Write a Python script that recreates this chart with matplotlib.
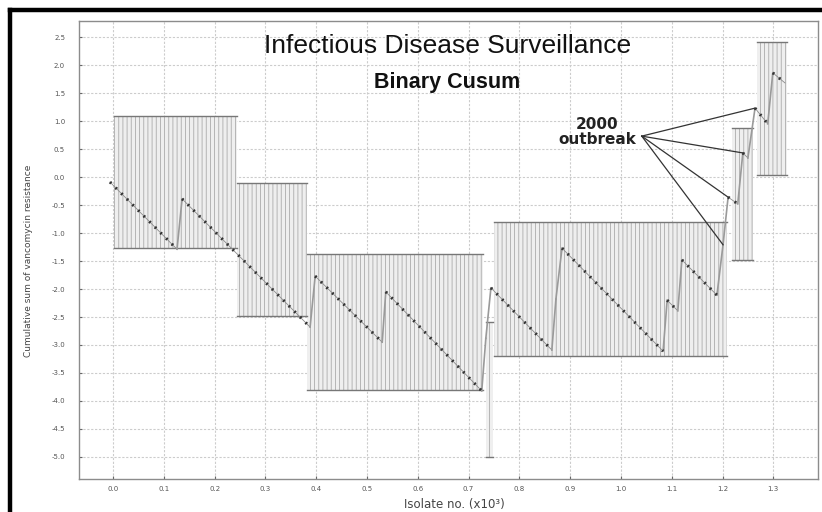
import matplotlib
matplotlib.use('Agg')
import matplotlib.pyplot as plt
from matplotlib.patches import Rectangle
from matplotlib.lines import Line2D

# cusum path (isolate no. x10^3, cumulative sum)
cusum_x = [-0.006, 0.126, 0.136, 0.388, 0.398, 0.530, 0.537, 0.726, 0.734, 0.744,
           0.864, 0.872, 0.884, 1.083, 1.091, 1.112, 1.120, 1.189, 1.201, 1.211,
           1.230, 1.240, 1.250, 1.264, 1.289, 1.299, 1.323]
cusum_y = [-0.09, -1.29, -0.39, -2.68, -1.77, -2.95, -2.05, -3.82, -2.88, -1.98,
           -3.09, -2.18, -1.27, -3.11, -2.20, -2.39, -1.48, -2.11, -1.21, -0.36,
           -0.48, 0.43, 0.34, 1.23, 0.95, 1.86, 1.68]

# decision interval bands
band_start = [0.002, 0.244, 0.382, 0.734, 0.750, 1.219, 1.268]
band_end = [0.244, 0.382, 0.728, 0.748, 1.209, 1.260, 1.327]
band_top = [1.09, -0.11, -1.375, -2.59, -0.80, 0.875, 2.41]
band_bottom = [-1.27, -2.48, -3.80, -5.00, -3.20, -1.48, 0.04]

# points flagged as the 2000 outbreak (index into cusum arrays)
outbreak_idx = [23, 21, 19, 18]

x_ticks = [0.0, 0.1, 0.2, 0.3, 0.4, 0.5, 0.6, 0.7, 0.8, 0.9, 1.0, 1.1, 1.2, 1.3]
y_ticks = [2.5, 2.0, 1.5, 1.0, 0.5, 0.0, -0.5, -1.0, -1.5, -2.0, -2.5, -3.0,
           -3.5, -4.0, -4.5, -5.0]

plt.rcParams['hatch.linewidth'] = 0.6

fig = plt.figure(figsize=(8.22, 5.12), dpi=100)
ax = fig.add_axes([79 / 822, 1 - 479 / 512, (818 - 79) / 822, (479 - 21) / 512])

# bands: vertical hatching plus top/bottom limits
for x0, x1, top, bot in zip(band_start, band_end, band_top, band_bottom):
    ax.add_patch(Rectangle((x0, bot), x1 - x0, top - bot, facecolor='#efefef',
                           edgecolor='#ababab', hatch='||||', linewidth=0, zorder=1))
    ax.plot([x0, x1], [top, top], color='#777777', lw=1.0, zorder=2)
    ax.plot([x0, x1], [bot, bot], color='#777777', lw=1.0, zorder=2)

# the cusum: falling runs dotted, jumps (resistant isolates) thin grey
for i in range(len(cusum_x) - 1):
    xs = cusum_x[i:i + 2]
    ys = cusum_y[i:i + 2]
    if ys[1] < ys[0]:
        ax.plot(xs, ys, color='#8a8a8a', lw=0.6, zorder=3)
        ax.plot(xs, ys, color='#333333', lw=2.2, dashes=(0.6, 2.0), zorder=4)
    else:
        ax.plot(xs, ys, color='#9a9a9a', lw=1.2, zorder=3)

# outbreak annotation
ax.text(0.953, 0.81, '2000\noutbreak', ha='center', va='center', fontsize=11,
        fontweight='bold', color='#222222', linespacing=1.0, zorder=6)
for i in outbreak_idx:
    ax.plot([1.041, cusum_x[i]], [0.73, cusum_y[i]], color='#333333', lw=0.9, zorder=5)

ax.set_xlim(-0.067, 1.388)
ax.set_ylim(-5.393, 2.786)
ax.set_xticks(x_ticks)
ax.set_xticklabels(['%.1f' % v for v in x_ticks])
ax.set_yticks(y_ticks)
ax.set_yticklabels(['%.1f' % v for v in y_ticks])
ax.tick_params(direction='in', length=2, width=0.8, color='#666666', labelsize=5,
               labelcolor='#555555')
ax.tick_params(axis='y', pad=10)
ax.tick_params(axis='x', pad=5)
ax.grid(True, color='#cccccc', lw=0.8, linestyle=(0, (2, 1.5)), zorder=0)
ax.set_axisbelow(True)
for s in ax.spines.values():
    s.set_color('#8c8c8c')
    s.set_linewidth(1.0)

ax.set_ylabel('Cumulative sum of vancomycin resistance', fontsize=6.5,
              color='#444444')
ax.yaxis.set_label_coords(-0.062, 0.476)
ax.set_xlabel('Isolate no. (x10³)', fontsize=8.5, color='#444444')
ax.xaxis.set_label_coords(0.508, -0.042)

# titles
fig.text(447.5 / 822, 1 - 53 / 512, 'Infectious Disease Surveillance',
         ha='center', va='baseline', fontsize=19, family='Liberation Sans',
         color='#111111')
fig.text(447.5 / 822, 1 - 88 / 512, 'Binary Cusum', ha='center', va='baseline',
         fontsize=15.5, fontweight='bold', family='Liberation Sans', color='#111111')

# black frame round the scanned figure (right/bottom cropped)
fig.add_artist(Line2D([10 / 822, 10 / 822], [0, 1 - 9.5 / 512], color='black',
                      lw=3.2, transform=fig.transFigure, solid_capstyle='projecting'))
fig.add_artist(Line2D([10 / 822, 1], [1 - 9.5 / 512, 1 - 9.5 / 512], color='black',
                      lw=3.2, transform=fig.transFigure, solid_capstyle='projecting'))

fig.savefig('out.png', dpi=100)
